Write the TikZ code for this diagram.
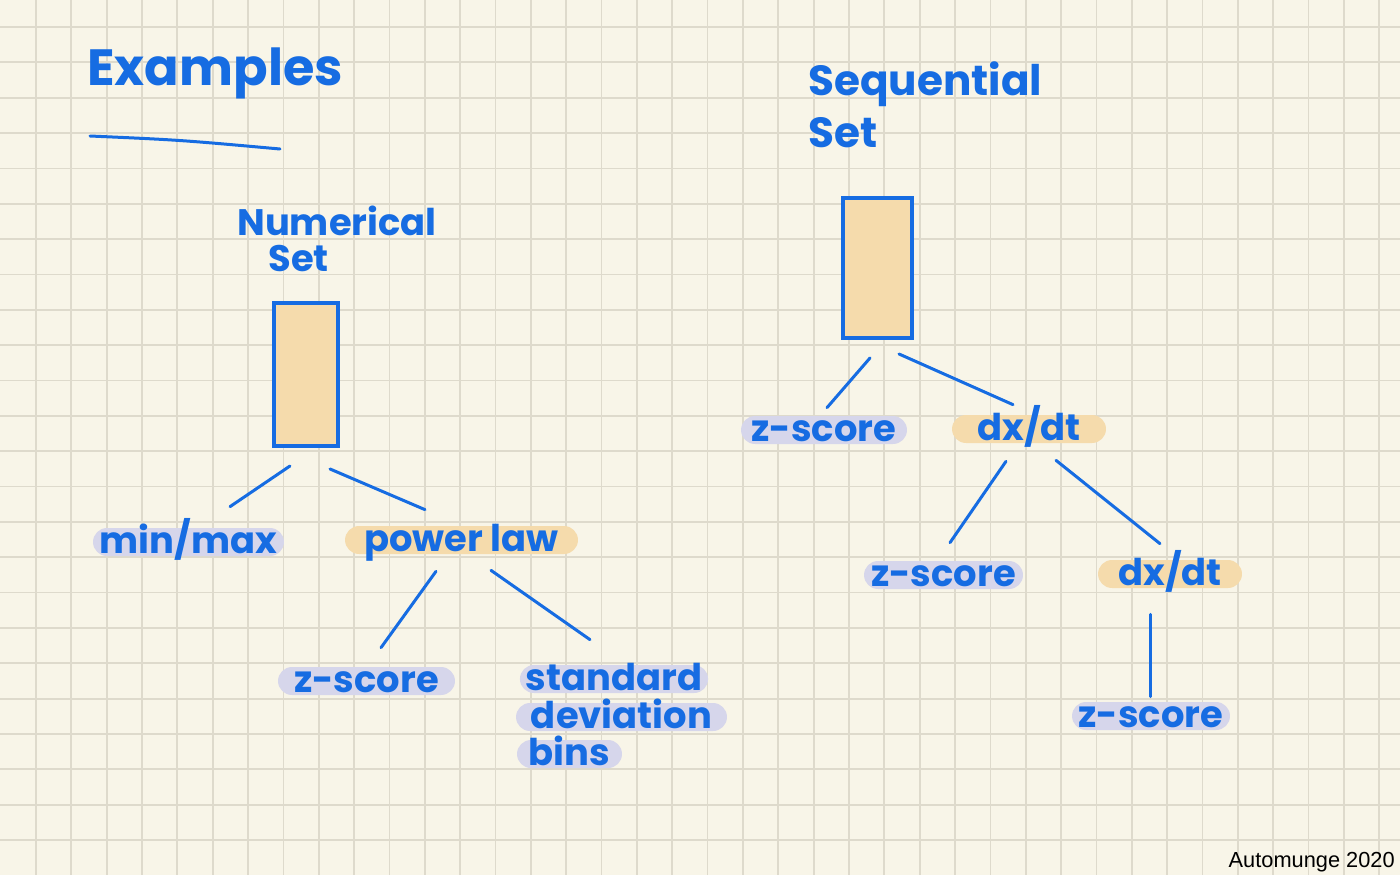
\documentclass[tikz,border=0pt]{standalone}
\usepackage{fontspec}
\setmainfont{Poppins}
\newfontfamily\creditfont{Liberation Sans}
\usepackage{xcolor}
\usepackage{tikz}

\definecolor{paper}{RGB}{248,245,232}
\definecolor{gridline}{RGB}{222,218,204}
\definecolor{ink}{RGB}{22,108,226}
\definecolor{peach}{RGB}{245,219,172}
\definecolor{lilac}{RGB}{214,214,235}

\tikzset{
  stroke/.style={draw=ink, line width=0.06cm, line cap=round},
  pill/.style={rounded corners=0.28cm, minimum height=0.56cm, inner ysep=0pt,
    text height=0.44cm, text depth=0pt, text=ink, font=\bfseries\fontsize{21}{24}\selectfont},
  colbox/.style={draw=ink, fill=peach, line width=0.08cm, inner sep=0pt},
  heading/.style={text=ink, align=left, inner sep=0pt}
}

\begin{document}
\begin{tikzpicture}[x=0.02cm, y=-0.02cm]
  % paper and squared grid
  \fill[paper] (0,0) rectangle (1400,875);
  \useasboundingbox (0,0) rectangle (1400,875);
  \foreach \k in {1,...,39}
    \draw[gridline, line width=0.035cm] ({0.6+35.35*\k},0) -- ({0.6+35.35*\k},875);
  \foreach \k in {0,...,24}
    \draw[gridline, line width=0.035cm] (0,{27+35.35*\k}) -- (1400,{27+35.35*\k});

  % title
  \node[heading, anchor=base west, font=\bfseries\fontsize{29}{32}\selectfont] (examples) at (87,86) {Examples};
  \draw[stroke] (90,136) .. controls (180,140) .. (280,149);

  % numerical set
  \node[heading, anchor=base west, font=\bfseries\fontsize{21}{20}\selectfont] (numtitle) at (237,271)
    {Numerical\\\hspace*{0.62cm}Set};
  \node[colbox, minimum width=1.28cm, minimum height=2.86cm] (numcol) at (306,374.5) {};
  \node[pill, fill=lilac, minimum width=3.82cm] (minmax) at (188.5,542) {min/max};
  \node[pill, fill=peach, minimum width=4.66cm] (power) at (461.5,540) {power law};
  \node[pill, fill=lilac, minimum width=3.54cm] (numz) at (366.5,681) {z-score};
  \node[pill, fill=lilac, minimum width=3.76cm] (stdA) at (614,679) {standard};
  \node[pill, fill=lilac, minimum width=4.22cm] (stdB) at (621.5,717) {deviation};
  \node[pill, fill=lilac, minimum width=2.10cm] (stdC) at (569.5,754) {bins};

  \draw[stroke] ([shift={(-16,18)}]numcol.south) -- ([shift={(41.5,-21)}]minmax.north);
  \draw[stroke] ([shift={(24,21)}]numcol.south) -- ([shift={(-36.5,-16)}]power.north);
  \draw[stroke] ([shift={(-25.5,17)}]power.south) -- ([shift={(14.5,-19)}]numz.north);
  \draw[stroke] ([shift={(29.5,16)}]power.south) -- ([shift={(-24,-25)}]stdA.north);

  % sequential set
  \node[heading, anchor=base west, font=\bfseries\fontsize{24}{30}\selectfont] (seqtitle) at (808,148)
    {Sequential\\Set};
  \node[colbox, minimum width=1.38cm, minimum height=2.80cm] (seqcol) at (877.5,268) {};
  \node[pill, fill=lilac, minimum width=3.32cm] (seqzA) at (824,430) {z-score};
  \node[pill, fill=peach, minimum width=3.08cm] (dxA) at (1029,429) {dx/dt};
  \node[pill, fill=lilac, minimum width=3.18cm] (seqzB) at (943.5,575) {z-score};
  \node[pill, fill=peach, minimum width=2.88cm] (dxB) at (1170,574) {dx/dt};
  \node[pill, fill=lilac, minimum width=3.16cm] (seqzC) at (1151,716) {z-score};

  \draw[stroke] ([shift={(-7.5,18)}]seqcol.south) -- ([shift={(3,-8)}]seqzA.north);
  \draw[stroke] ([shift={(21.5,14)}]seqcol.south) -- ([shift={(-16,-10)}]dxA.north);
  \draw[stroke] ([shift={(-23,18)}]dxA.south) -- ([shift={(6.5,-18)}]seqzB.north);
  \draw[stroke] ([shift={(27,17)}]dxA.south) -- ([shift={(-10,-16)}]dxB.north);
  \draw[stroke] ([shift={(-20,26)}]dxB.south) -- ([shift={(-1,-5)}]seqzC.north);

  % credit
  \node[anchor=base east, inner sep=0pt, font=\creditfont\fontsize{12.4}{14}\selectfont] (credit)
    at (1395,867) {Automunge 2020};
\end{tikzpicture}
\end{document}
